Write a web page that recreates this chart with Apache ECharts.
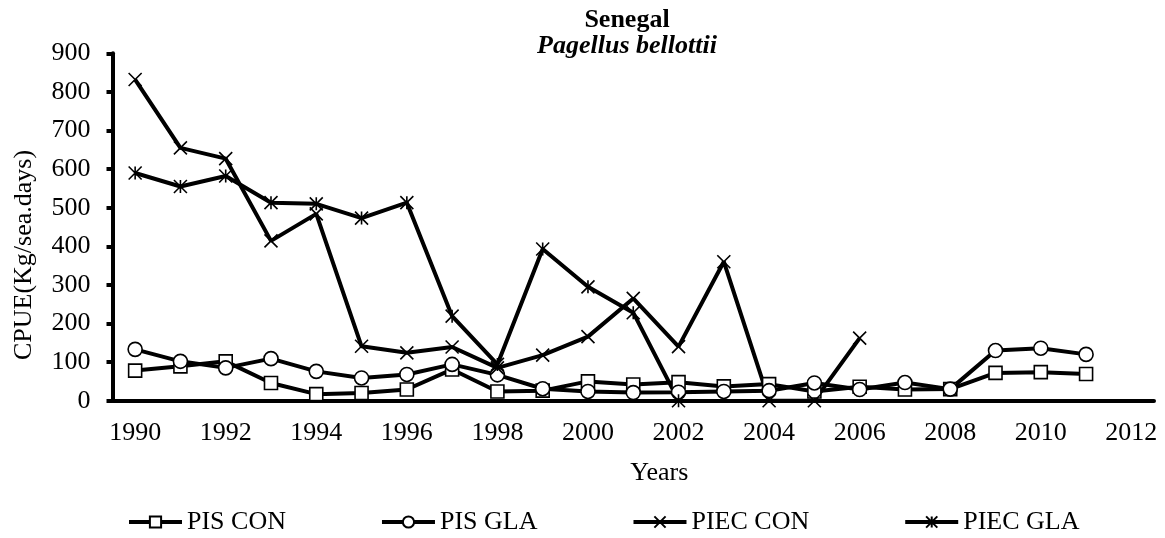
<!DOCTYPE html>
<html>
<head>
<meta charset="utf-8">
<script src="https://cdn.jsdelivr.net/npm/echarts@6/dist/echarts.min.js"></script>
<style>
  html, body { margin: 0; padding: 0; background: #fff; }
</style>
</head>
<body>
<div id="main" style="width:1165px;height:538px"></div>
<script>
var years = ['1990', '1991', '1992', '1993', '1994', '1995', '1996', '1997', '1998', '1999', '2000',
  '2001', '2002', '2003', '2004', '2005', '2006', '2007', '2008', '2009', '2010', '2011', '2012'];
var pisCon = [78, 89, 102, 46, 17, 20, 29, 81, 24, 26, 50, 42, 48, 37, 43, 24, 36, 29, 30, 72, 74, 69];
var pisGla = [133, 102, 85, 109, 76, 59, 68, 94, 67, 31, 24, 21, 22, 24, 26, 46, 29, 47, 30, 130, 136, 120];
var piecCon = [832, 655, 627, 414, 484, 141, 124, 139, 85, 118, 166, 265, 140, 360, 0, 0, 162];
var piecGla = [590, 555, 582, 513, 510, 473, 513, 219, 94, 393, 295, 228, 0];

var font = 'Liberation Serif, Times New Roman, serif';
var crossPath = 'path://M0,0L10,10M10,0L0,10';
var starPath = 'path://M0,0L10,10M10,0L0,10M5,0L5,10';

function makeSeries(name, data, symbol, size, hollow) {
  return {
    name: name,
    type: 'line',
    data: data,
    symbol: symbol,
    symbolSize: size,
    showAllSymbol: true,
    lineStyle: { color: '#000', width: 4 },
    itemStyle: {
      color: hollow ? '#fff' : '#000',
      borderColor: '#000',
      borderWidth: 1.6
    },
    emphasis: { disabled: true }
  };
}

var chart = echarts.init(document.getElementById('main'));
var option = {
  animation: false,
  title: {
    text: 'Senegal',
    subtext: 'Pagellus bellottii',
    left: 627,
    top: 7,
    textAlign: 'center',
    padding: 0,
    itemGap: 0,
    textStyle: { fontFamily: font, fontSize: 26, fontWeight: 'bold', color: '#000' },
    subtextStyle: { fontFamily: font, fontSize: 26, fontWeight: 'bold', fontStyle: 'italic', color: '#000' }
  },
  legend: {
    left: 127,
    top: 509,
    padding: 0,
    itemGap: 94,
    itemWidth: 53,
    itemHeight: 14,
    lineStyle: { width: 4 },
    textStyle: { fontFamily: font, fontSize: 26, color: '#000' },
    data: ['PIS CON', 'PIS GLA', 'PIEC CON', 'PIEC GLA']
  },
  grid: {
    left: 112.5,
    right: 11,
    top: 53.3,
    bottom: 137.3,
    containLabel: false
  },
  xAxis: {
    type: 'category',
    data: years,
    boundaryGap: true,
    name: 'Years',
    nameLocation: 'middle',
    nameGap: 59,
    nameTextStyle: { fontFamily: font, fontSize: 26, color: '#000', padding: [0, 0, 0, 52] },
    axisLine: { lineStyle: { color: '#000', width: 4 } },
    axisTick: { interval: 0, length: 6, lineStyle: { color: '#000', width: 4 } },
    axisLabel: { interval: 1, margin: 19, fontFamily: font, fontSize: 26, color: '#000' },
    splitLine: { show: false }
  },
  yAxis: {
    type: 'value',
    min: 0,
    max: 900,
    interval: 100,
    name: 'CPUE(Kg/sea.days)',
    nameLocation: 'middle',
    nameGap: 75,
    nameRotate: 90,
    nameTextStyle: { fontFamily: font, fontSize: 26, color: '#000', padding: [0, 56, 0, 0] },
    axisLine: { show: true, lineStyle: { color: '#000', width: 4 } },
    axisTick: { show: true, length: 6, lineStyle: { color: '#000', width: 4 } },
    axisLabel: { margin: 22, fontFamily: font, fontSize: 26, color: '#000' },
    splitLine: { show: false }
  },
  series: [
    makeSeries('PIS CON', pisCon, 'rect', 13, true),
    makeSeries('PIS GLA', pisGla, 'circle', 14, true),
    makeSeries('PIEC CON', piecCon, crossPath, 13, false),
    makeSeries('PIEC GLA', piecGla, starPath, 13, false)
  ]
};
option && chart.setOption(option);
</script>
</body>
</html>
